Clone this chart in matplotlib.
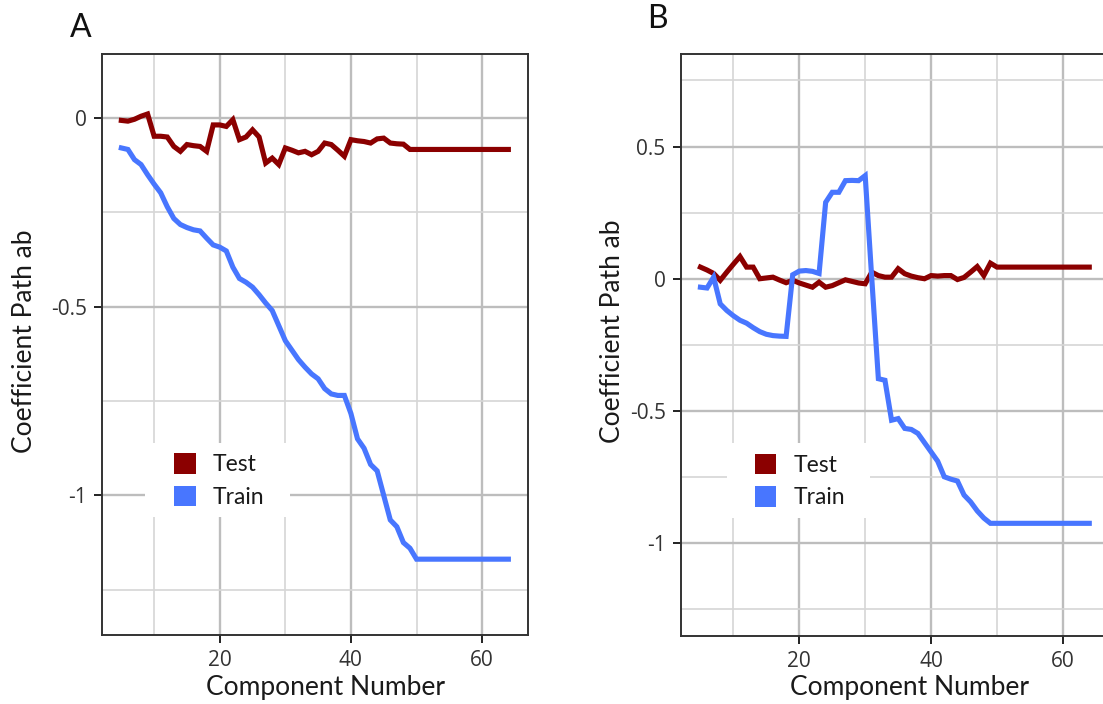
import matplotlib
matplotlib.use("Agg")
import matplotlib.pyplot as plt
from matplotlib.patches import Patch, Rectangle
from matplotlib.ticker import MultipleLocator
import numpy as np

components = list(range(5, 65))

test_a = [-0.006, -0.008, -0.003, 0.005, 0.011, -0.048, -0.048, -0.050, -0.075, -0.088,
          -0.070, -0.073, -0.075, -0.088, -0.018, -0.018, -0.022, -0.004, -0.057, -0.050,
          -0.031, -0.050, -0.119, -0.106, -0.123, -0.079, -0.085, -0.092, -0.088, -0.097,
          -0.088, -0.066, -0.070, -0.085, -0.101, -0.057, -0.060, -0.062, -0.066, -0.055,
          -0.053, -0.066, -0.068, -0.069, -0.083] + [-0.083] * 15

train_a = [-0.079, -0.083, -0.110, -0.123, -0.150, -0.175, -0.198, -0.235, -0.266, -0.282,
           -0.290, -0.296, -0.299, -0.318, -0.336, -0.342, -0.352, -0.395, -0.425, -0.435,
           -0.448, -0.468, -0.490, -0.510, -0.550, -0.590, -0.615, -0.640, -0.660, -0.678,
           -0.691, -0.717, -0.731, -0.735, -0.735, -0.783, -0.850, -0.875, -0.918, -0.935,
           -1.000, -1.065, -1.083, -1.125, -1.140, -1.169] + [-1.169] * 14

test_b = [0.044, 0.033, 0.020, -0.006, 0.025, 0.055, 0.084, 0.044, 0.044, 0.000,
          0.003, 0.006, -0.005, -0.015, -0.006, -0.016, -0.024, -0.032, -0.013, -0.032,
          -0.026, -0.015, -0.004, -0.010, -0.016, -0.019, 0.025, 0.012, 0.006, 0.006,
          0.038, 0.019, 0.010, 0.004, 0.000, 0.012, 0.010, 0.012, 0.012, -0.003,
          0.005, 0.025, 0.046, 0.012, 0.059] + [0.044] * 15

train_b = [-0.032, -0.035, 0.006, -0.095, -0.120, -0.140, -0.157, -0.168, -0.185, -0.200,
           -0.210, -0.215, -0.217, -0.218, 0.015, 0.029, 0.031, 0.028, 0.020, 0.289,
           0.327, 0.327, 0.371, 0.372, 0.371, 0.390, 0.000, -0.378, -0.384, -0.535,
           -0.529, -0.566, -0.570, -0.585, -0.620, -0.655, -0.690, -0.749, -0.758, -0.765,
           -0.818, -0.844, -0.878, -0.905, -0.925] + [-0.925] * 15

x_ticks = [20, 40, 60]
y_ticks_a = [0, -0.5, -1]
y_tick_labels_a = ["0", "-0.5", "-1"]
y_ticks_b = [0.5, 0, -0.5, -1]
y_tick_labels_b = ["0.5", "0", "-0.5", "-1"]
series_names = ["Test", "Train"]
series_colors = ["#8B0000", "#4876FF"]

W, H = 1103, 704
fig = plt.figure(figsize=(W / 100, H / 100), dpi=100)
fig.patch.set_facecolor("white")

TICK_FONT = "Open Sans"
TEXT_FONT = "Lato"


def px_rect(l, r, t, b):
    return [l / W, (H - b) / H, (r - l) / W, (b - t) / H]


def style_axes(ax, xlim, ylim, yticks, ylabels, minor_y):
    ax.set_xlim(*xlim)
    ax.set_ylim(*ylim)
    ax.set_xticks(x_ticks)
    ax.set_xticklabels([str(v) for v in x_ticks])
    ax.set_yticks(yticks)
    ax.set_yticklabels(ylabels)
    ax.xaxis.set_minor_locator(MultipleLocator(10))
    ax.set_yticks(minor_y, minor=True)
    ax.grid(which="major", color="#BDBDBD", linewidth=1.7, zorder=0)
    ax.grid(which="minor", color="#D6D6D6", linewidth=1.2, zorder=0)
    ax.set_axisbelow(True)
    for s in ax.spines.values():
        s.set_color("#333333")
        s.set_linewidth(1.4)
    ax.tick_params(which="major", length=6, width=1.4, color="#222222",
                   labelsize=15, labelcolor="#333333", pad=5)
    ax.tick_params(which="minor", length=0)
    for lab in ax.get_xticklabels() + ax.get_yticklabels():
        lab.set_fontfamily(TICK_FONT)


def add_legend(ax, rect_x0, rect_x1, key_x):
    ax.add_patch(Rectangle((rect_x0, 0.203), rect_x1 - rect_x0, 0.1275,
                           transform=ax.transAxes, facecolor="white",
                           edgecolor="none", zorder=1.5))
    handles = [Patch(facecolor=c, edgecolor="none", label=n)
               for n, c in zip(series_names, series_colors)]
    leg = ax.legend(handles=handles, loc="upper left", bbox_to_anchor=(key_x, 0.313),
                    frameon=False, borderpad=0, borderaxespad=0,
                    handlelength=0.95, handleheight=1.0, handletextpad=0.75,
                    labelspacing=0.45, prop={"family": TEXT_FONT, "size": 16.5})
    for t in leg.get_texts():
        t.set_color("#1a1a1a")
    leg.set_zorder(3)


# Panel A
axA = fig.add_axes(px_rect(102, 527.7, 54, 635))
axA.plot(components, test_a, color=series_colors[0], linewidth=3.7,
         solid_joinstyle="miter", zorder=2)
axA.plot(components, train_a, color=series_colors[1], linewidth=3.7,
         solid_joinstyle="miter", zorder=2)
style_axes(axA, (2.05, 66.95), (-1.37, 0.17), y_ticks_a, y_tick_labels_a,
           [-0.25, -0.75, -1.25])
add_legend(axA, 0.101, 0.4416, 0.169)

# Panel B (extends slightly past the right edge of the image)
axB = fig.add_axes(px_rect(681, 1108.7, 54, 635.7))
axB.plot(components, test_b, color=series_colors[0], linewidth=3.7,
         solid_joinstyle="miter", zorder=2)
axB.plot(components, train_b, color=series_colors[1], linewidth=3.7,
         solid_joinstyle="miter", zorder=2)
style_axes(axB, (2.05, 66.95), (-1.35, 0.85), y_ticks_b, y_tick_labels_b,
           [0.75, 0.25, -0.25, -0.75, -1.25])
add_legend(axB, 0.1076, 0.442, 0.172)

# Axis titles and panel letters
for cx in (326, 909.5):
    fig.text(cx / W, 1 - 688 / H, "Component Number", ha="center", va="center",
             fontsize=19, family=TEXT_FONT, color="#1a1a1a")
for cx, cy in ((25, 341), (612, 331)):
    fig.text(cx / W, 1 - cy / H, "Coefficient Path ab", ha="center", va="center",
             rotation=90, fontsize=19, family=TEXT_FONT, color="#1a1a1a")
fig.text(70 / W, 1 - 28 / H, "A", ha="left", va="center", fontsize=23,
         family=TEXT_FONT, color="#111111")
fig.text(647 / W, 1 - 19 / H, "B", ha="left", va="center", fontsize=23,
         family=TEXT_FONT, color="#111111")

fig.savefig("out.png", dpi=100, facecolor="white")
